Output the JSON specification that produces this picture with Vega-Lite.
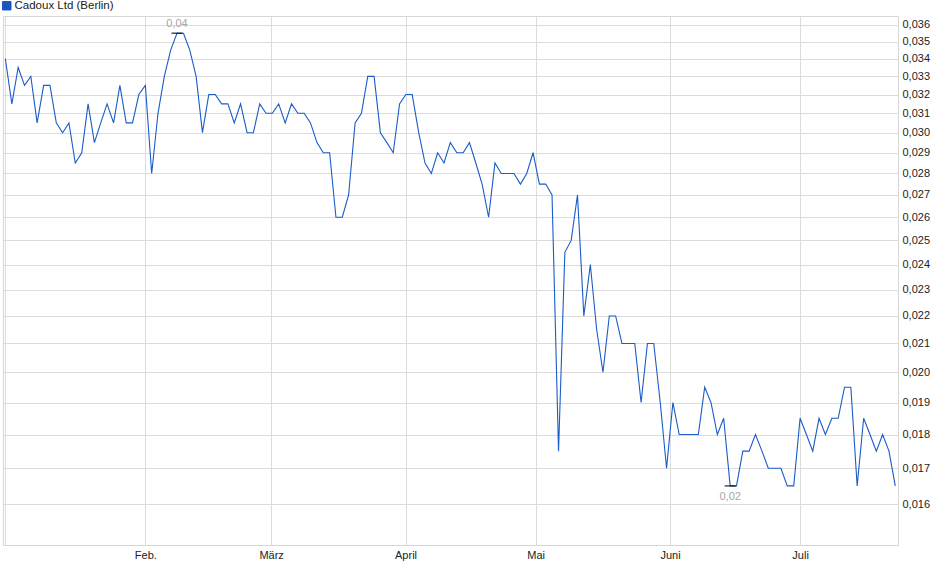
{
  "$schema": "https://vega.github.io/schema/vega-lite/v6.json",
  "width": 895,
  "height": 529,
  "autosize": {"type": "none"},
  "padding": {"left": 3, "top": 16, "right": 42, "bottom": 34},
  "background": "white",
  "config": {
    "font": "Liberation Sans",
    "view": {"stroke": "#d6d6d6", "strokeWidth": 1},
    "axis": {
      "labelFont": "Liberation Sans",
      "labelFontSize": 11,
      "labelColor": "#222222",
      "gridColor": "#dcdcdc",
      "gridWidth": 1,
      "ticks": false,
      "domain": false,
      "title": null
    },
    "legend": {
      "labelFont": "Liberation Sans",
      "labelFontSize": 11,
      "labelColor": "#222222"
    }
  },
  "datasets": {
    "prices": [
      {"d": "2023-12-30T17:00:00Z", "v": 0.034},
      {"d": "2024-01-01T05:00:00Z", "v": 0.0315},
      {"d": "2024-01-02T16:00:00Z", "v": 0.0335},
      {"d": "2024-01-04T03:00:00Z", "v": 0.0325},
      {"d": "2024-01-05T14:00:00Z", "v": 0.033},
      {"d": "2024-01-07T01:00:00Z", "v": 0.0305},
      {"d": "2024-01-08T13:00:00Z", "v": 0.0325},
      {"d": "2024-01-10T00:00:00Z", "v": 0.0325},
      {"d": "2024-01-11T11:00:00Z", "v": 0.0305},
      {"d": "2024-01-12T22:00:00Z", "v": 0.030},
      {"d": "2024-01-14T09:00:00Z", "v": 0.0305},
      {"d": "2024-01-15T20:00:00Z", "v": 0.0285},
      {"d": "2024-01-17T08:00:00Z", "v": 0.029},
      {"d": "2024-01-18T19:00:00Z", "v": 0.0315},
      {"d": "2024-01-20T06:00:00Z", "v": 0.0295},
      {"d": "2024-01-21T17:00:00Z", "v": 0.0305},
      {"d": "2024-01-23T04:00:00Z", "v": 0.0315},
      {"d": "2024-01-24T16:00:00Z", "v": 0.0305},
      {"d": "2024-01-26T03:00:00Z", "v": 0.0325},
      {"d": "2024-01-27T14:00:00Z", "v": 0.0305},
      {"d": "2024-01-29T01:00:00Z", "v": 0.0305},
      {"d": "2024-01-30T12:00:00Z", "v": 0.032},
      {"d": "2024-02-01T00:00:00Z", "v": 0.0325},
      {"d": "2024-02-02T11:00:00Z", "v": 0.028},
      {"d": "2024-02-03T22:00:00Z", "v": 0.031},
      {"d": "2024-02-05T09:00:00Z", "v": 0.033},
      {"d": "2024-02-06T20:00:00Z", "v": 0.0345},
      {"d": "2024-02-08T07:00:00Z", "v": 0.0355},
      {"d": "2024-02-09T19:00:00Z", "v": 0.0355},
      {"d": "2024-02-11T06:00:00Z", "v": 0.0345},
      {"d": "2024-02-12T17:00:00Z", "v": 0.033},
      {"d": "2024-02-14T04:00:00Z", "v": 0.030},
      {"d": "2024-02-15T15:00:00Z", "v": 0.032},
      {"d": "2024-02-17T03:00:00Z", "v": 0.032},
      {"d": "2024-02-18T14:00:00Z", "v": 0.0315},
      {"d": "2024-02-20T01:00:00Z", "v": 0.0315},
      {"d": "2024-02-21T12:00:00Z", "v": 0.0305},
      {"d": "2024-02-22T23:00:00Z", "v": 0.0315},
      {"d": "2024-02-24T11:00:00Z", "v": 0.030},
      {"d": "2024-02-25T22:00:00Z", "v": 0.030},
      {"d": "2024-02-27T09:00:00Z", "v": 0.0315},
      {"d": "2024-02-28T20:00:00Z", "v": 0.031},
      {"d": "2024-03-01T07:00:00Z", "v": 0.031},
      {"d": "2024-03-02T18:00:00Z", "v": 0.0315},
      {"d": "2024-03-04T06:00:00Z", "v": 0.0305},
      {"d": "2024-03-05T17:00:00Z", "v": 0.0315},
      {"d": "2024-03-07T04:00:00Z", "v": 0.031},
      {"d": "2024-03-08T15:00:00Z", "v": 0.031},
      {"d": "2024-03-10T02:00:00Z", "v": 0.0305},
      {"d": "2024-03-11T14:00:00Z", "v": 0.0295},
      {"d": "2024-03-13T01:00:00Z", "v": 0.029},
      {"d": "2024-03-14T12:00:00Z", "v": 0.029},
      {"d": "2024-03-15T23:00:00Z", "v": 0.026},
      {"d": "2024-03-17T10:00:00Z", "v": 0.026},
      {"d": "2024-03-18T21:00:00Z", "v": 0.027},
      {"d": "2024-03-20T09:00:00Z", "v": 0.0305},
      {"d": "2024-03-21T20:00:00Z", "v": 0.031},
      {"d": "2024-03-23T07:00:00Z", "v": 0.033},
      {"d": "2024-03-24T18:00:00Z", "v": 0.033},
      {"d": "2024-03-26T05:00:00Z", "v": 0.030},
      {"d": "2024-03-27T17:00:00Z", "v": 0.0295},
      {"d": "2024-03-29T04:00:00Z", "v": 0.029},
      {"d": "2024-03-30T15:00:00Z", "v": 0.0315},
      {"d": "2024-04-01T02:00:00Z", "v": 0.032},
      {"d": "2024-04-02T13:00:00Z", "v": 0.032},
      {"d": "2024-04-04T01:00:00Z", "v": 0.030},
      {"d": "2024-04-05T12:00:00Z", "v": 0.0285},
      {"d": "2024-04-06T23:00:00Z", "v": 0.028},
      {"d": "2024-04-08T10:00:00Z", "v": 0.029},
      {"d": "2024-04-09T21:00:00Z", "v": 0.0285},
      {"d": "2024-04-11T08:00:00Z", "v": 0.0295},
      {"d": "2024-04-12T20:00:00Z", "v": 0.029},
      {"d": "2024-04-14T07:00:00Z", "v": 0.029},
      {"d": "2024-04-15T18:00:00Z", "v": 0.0295},
      {"d": "2024-04-17T05:00:00Z", "v": 0.0285},
      {"d": "2024-04-18T16:00:00Z", "v": 0.0275},
      {"d": "2024-04-20T04:00:00Z", "v": 0.026},
      {"d": "2024-04-21T15:00:00Z", "v": 0.0285},
      {"d": "2024-04-23T02:00:00Z", "v": 0.028},
      {"d": "2024-04-24T13:00:00Z", "v": 0.028},
      {"d": "2024-04-26T00:00:00Z", "v": 0.028},
      {"d": "2024-04-27T12:00:00Z", "v": 0.0275},
      {"d": "2024-04-28T23:00:00Z", "v": 0.028},
      {"d": "2024-04-30T10:00:00Z", "v": 0.029},
      {"d": "2024-05-01T21:00:00Z", "v": 0.0275},
      {"d": "2024-05-03T08:00:00Z", "v": 0.0275},
      {"d": "2024-05-04T19:00:00Z", "v": 0.027},
      {"d": "2024-05-06T07:00:00Z", "v": 0.0175},
      {"d": "2024-05-07T18:00:00Z", "v": 0.0245},
      {"d": "2024-05-09T05:00:00Z", "v": 0.025},
      {"d": "2024-05-10T16:00:00Z", "v": 0.027},
      {"d": "2024-05-12T03:00:00Z", "v": 0.022},
      {"d": "2024-05-13T15:00:00Z", "v": 0.024},
      {"d": "2024-05-15T02:00:00Z", "v": 0.0215},
      {"d": "2024-05-16T13:00:00Z", "v": 0.020},
      {"d": "2024-05-18T00:00:00Z", "v": 0.022},
      {"d": "2024-05-19T11:00:00Z", "v": 0.022},
      {"d": "2024-05-20T22:00:00Z", "v": 0.021},
      {"d": "2024-05-22T10:00:00Z", "v": 0.021},
      {"d": "2024-05-23T21:00:00Z", "v": 0.021},
      {"d": "2024-05-25T08:00:00Z", "v": 0.019},
      {"d": "2024-05-26T19:00:00Z", "v": 0.021},
      {"d": "2024-05-28T06:00:00Z", "v": 0.021},
      {"d": "2024-05-29T18:00:00Z", "v": 0.019},
      {"d": "2024-05-31T05:00:00Z", "v": 0.017},
      {"d": "2024-06-01T16:00:00Z", "v": 0.019},
      {"d": "2024-06-03T03:00:00Z", "v": 0.018},
      {"d": "2024-06-04T14:00:00Z", "v": 0.018},
      {"d": "2024-06-06T02:00:00Z", "v": 0.018},
      {"d": "2024-06-07T13:00:00Z", "v": 0.018},
      {"d": "2024-06-09T00:00:00Z", "v": 0.0195},
      {"d": "2024-06-10T11:00:00Z", "v": 0.019},
      {"d": "2024-06-11T22:00:00Z", "v": 0.018},
      {"d": "2024-06-13T09:00:00Z", "v": 0.0185},
      {"d": "2024-06-14T21:00:00Z", "v": 0.0165},
      {"d": "2024-06-16T08:00:00Z", "v": 0.0165},
      {"d": "2024-06-17T19:00:00Z", "v": 0.0175},
      {"d": "2024-06-19T06:00:00Z", "v": 0.0175},
      {"d": "2024-06-20T17:00:00Z", "v": 0.018},
      {"d": "2024-06-22T05:00:00Z", "v": 0.0175},
      {"d": "2024-06-23T16:00:00Z", "v": 0.017},
      {"d": "2024-06-25T03:00:00Z", "v": 0.017},
      {"d": "2024-06-26T14:00:00Z", "v": 0.017},
      {"d": "2024-06-28T01:00:00Z", "v": 0.0165},
      {"d": "2024-06-29T13:00:00Z", "v": 0.0165},
      {"d": "2024-07-01T00:00:00Z", "v": 0.0185},
      {"d": "2024-07-02T11:00:00Z", "v": 0.018},
      {"d": "2024-07-03T22:00:00Z", "v": 0.0175},
      {"d": "2024-07-05T09:00:00Z", "v": 0.0185},
      {"d": "2024-07-06T20:00:00Z", "v": 0.018},
      {"d": "2024-07-08T08:00:00Z", "v": 0.0185},
      {"d": "2024-07-09T19:00:00Z", "v": 0.0185},
      {"d": "2024-07-11T06:00:00Z", "v": 0.0195},
      {"d": "2024-07-12T17:00:00Z", "v": 0.0195},
      {"d": "2024-07-14T04:00:00Z", "v": 0.0165},
      {"d": "2024-07-15T16:00:00Z", "v": 0.0185},
      {"d": "2024-07-17T03:00:00Z", "v": 0.018},
      {"d": "2024-07-18T14:00:00Z", "v": 0.0175},
      {"d": "2024-07-20T01:00:00Z", "v": 0.018},
      {"d": "2024-07-21T12:00:00Z", "v": 0.0175},
      {"d": "2024-07-22T23:00:00Z", "v": 0.0165}
    ],
    "extremes": [
      {"d": "2024-02-08T07:00:00Z", "v": 0.0355, "label": "0,04", "kind": "max"},
      {"d": "2024-06-14T21:00:00Z", "v": 0.0165, "label": "0,02", "kind": "min"}
    ]
  },
  "encoding": {
    "x": {
      "field": "d",
      "type": "temporal",
      "scale": {
        "type": "utc",
        "domain": [
          {"year": 2023, "month": 12, "date": 30, "hours": 4, "utc": true},
          {"year": 2024, "month": 7, "date": 23, "hours": 14, "utc": true}
        ]
      },
      "axis": {
        "values": [
          {"year": 2023, "month": 12, "date": 30, "hours": 17, "utc": true},
          {"year": 2024, "month": 2, "date": 1, "utc": true},
          {"year": 2024, "month": 3, "date": 1, "utc": true},
          {"year": 2024, "month": 4, "date": 1, "utc": true},
          {"year": 2024, "month": 5, "date": 1, "utc": true},
          {"year": 2024, "month": 6, "date": 1, "utc": true},
          {"year": 2024, "month": 7, "date": 1, "utc": true}
        ],
        "labelExpr": "utcdate(datum.value) == 1 ? ['Jan.','Feb.','März','April','Mai','Juni','Juli','Aug.'][utcmonth(datum.value)] : ''",
        "labelPadding": 4,
        "labelOverlap": false,
        "labelFlush": false
      }
    },
    "y": {
      "field": "v",
      "type": "quantitative",
      "scale": {"type": "log", "domain": [0.01493, 0.03655], "nice": false},
      "axis": {
        "orient": "right",
        "values": [0.016, 0.017, 0.018, 0.019, 0.020, 0.021, 0.022, 0.023, 0.024, 0.025, 0.026, 0.027, 0.028, 0.029, 0.030, 0.031, 0.032, 0.033, 0.034, 0.035, 0.036],
        "labelExpr": "replace(format(datum.value, '.3f'), '.', ',')",
        "labelPadding": 4,
        "labelOverlap": false
      }
    }
  },
  "layer": [
    {
      "data": {"name": "prices"},
      "mark": {"type": "line", "strokeWidth": 1.1, "interpolate": "linear"},
      "encoding": {
        "color": {
          "datum": "Cadoux Ltd (Berlin)",
          "scale": {"range": ["#1a5cc8"]},
          "legend": {
            "title": null,
            "orient": "none",
            "legendX": -2,
            "legendY": -16,
            "symbolType": "square",
            "symbolSize": 72,
            "symbolFillColor": "#1a56c0",
            "symbolStrokeColor": "#0b2d72",
            "symbolStrokeWidth": 1,
            "labelOffset": 2,
            "labelFontSize": 11.5,
            "padding": 0,
            "encode": {
              "symbols": {
                "update": {
                  "fill": {"value": "#1a56c0"},
                  "stroke": {"value": "#0b2d72"},
                  "strokeWidth": {"value": 1},
                  "opacity": {"value": 1}
                }
              }
            }
          }
        }
      }
    },
    {
      "data": {"name": "extremes"},
      "mark": {"type": "tick", "orient": "horizontal", "size": 11, "thickness": 1.5, "color": "#000000"},
      "encoding": {}
    },
    {
      "data": {"name": "extremes"},
      "transform": [{"filter": "datum.kind == 'max'"}],
      "mark": {"type": "text", "dy": -9, "fontSize": 11, "color": "#a6a6a6", "baseline": "middle"},
      "encoding": {"text": {"field": "label"}}
    },
    {
      "data": {"name": "extremes"},
      "transform": [{"filter": "datum.kind == 'min'"}],
      "mark": {"type": "text", "dy": 11, "fontSize": 11, "color": "#a6a6a6", "baseline": "middle"},
      "encoding": {"text": {"field": "label"}}
    }
  ]
}
